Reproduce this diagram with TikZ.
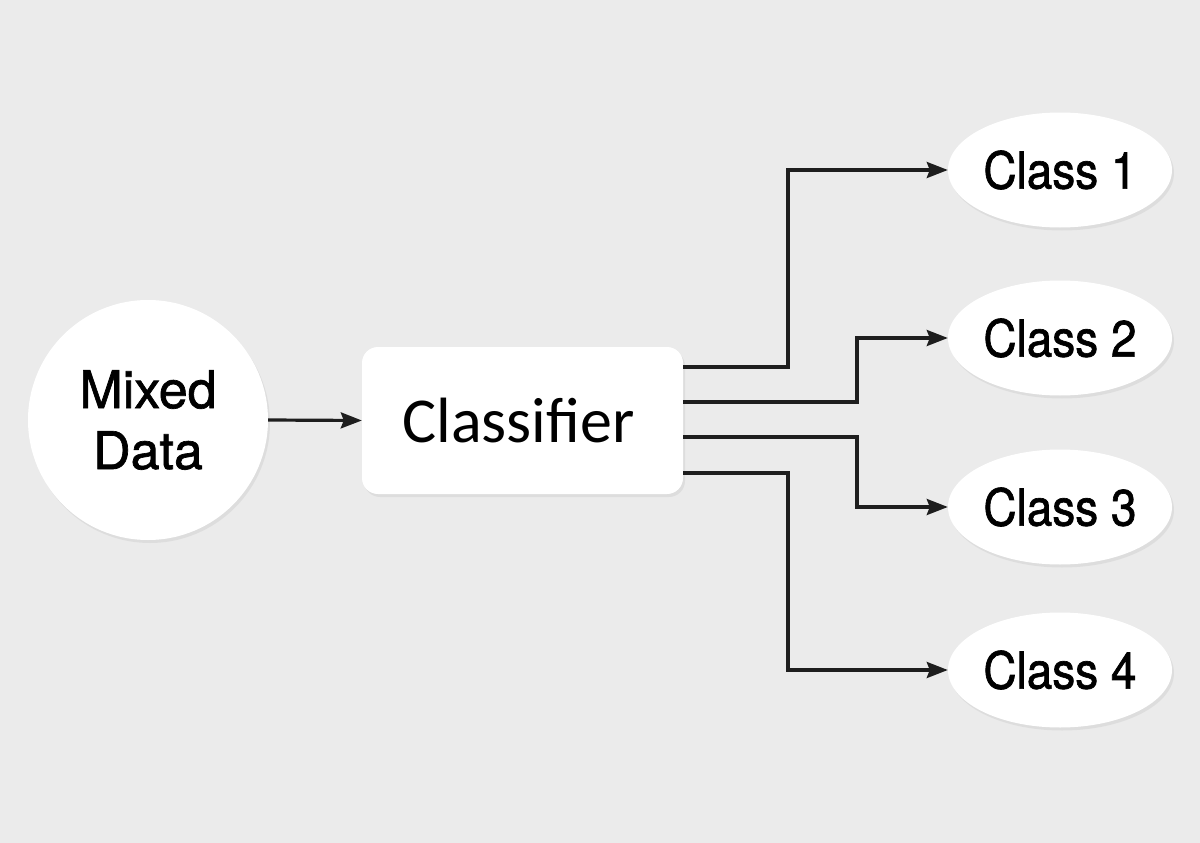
\documentclass[tikz,border=0pt]{standalone}
\usepackage{fontspec}
\setmainfont{TeX Gyre Heros}[FakeBold=1.3]
\newfontfamily\herosmd[FakeBold=1.3]{TeX Gyre Heros}
\newfontfamily\calib{Carlito}
\newfontfamily\heroscond[FakeStretch=0.9,FakeBold=1.3]{TeX Gyre Heros}
\usetikzlibrary{shapes.geometric,arrows.meta,shadows}
\definecolor{bgc}{HTML}{EBEBEB}
\definecolor{linec}{HTML}{1E1E1E}
\begin{document}
\begin{tikzpicture}[x=1pt,y=-1pt,
  shad/.style={drop shadow={opacity=0.12,shadow xshift=2pt,shadow yshift=-3pt}},
  classnode/.style={ellipse,fill=white,shad,minimum width=224pt,minimum height=115pt,inner sep=0pt,
    font=\heroscond\fontsize{51}{60}\selectfont},
  arr/.style={draw=linec,line width=3.2pt,-{Stealth[length=21pt,width=16pt,inset=3pt]}}]
\path[fill=bgc,use as bounding box] (0,0) rectangle (1200,843);
\node[circle,fill=white,shad,minimum size=240pt,inner sep=0pt,align=center,
  font=\herosmd\fontsize{52}{61}\selectfont] (md) at (148,420) {Mixed\\Data};
\node[rectangle,rounded corners=16pt,fill=white,shad,minimum width=321pt,minimum height=147pt,inner sep=0pt,
  font=\calib\fontsize{64}{70}\selectfont] (cls) at (522.5,420.5) {\hspace*{-8pt}Classifier};
\node[classnode] (c1) at (1060,170) {Class 1};
\node[classnode] (c2) at (1060,338) {Class 2};
\node[classnode] (c3) at (1060,507) {Class 3};
\node[classnode] (c4) at (1060,670) {Class 4};
\coordinate (o1) at (683,367);
\coordinate (o2) at (683,402);
\coordinate (o3) at (683,437);
\coordinate (o4) at (683,473);
\draw[arr] (md.east) -- (cls.west);
\draw[arr] (o1) -- ++(105,0) |- (c1.west);
\draw[arr] (o2) -- ++(174,0) |- (c2.west);
\draw[arr] (o3) -- ++(174,0) |- (c3.west);
\draw[arr] (o4) -- ++(105,0) |- (c4.west);
\end{tikzpicture}
\end{document}
